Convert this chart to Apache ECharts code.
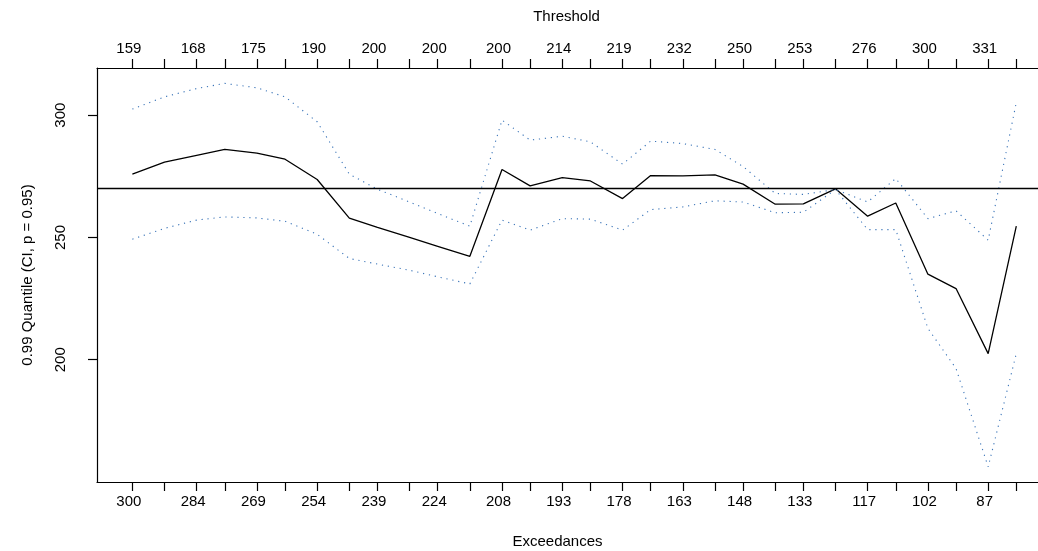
<!DOCTYPE html>
<html>
<head>
<meta charset="utf-8">
<script src="https://cdn.jsdelivr.net/npm/echarts@6/dist/echarts.min.js"></script>
<style>
html,body{margin:0;padding:0;background:#fff;}
#chart{width:1038px;height:551px;}
</style>
</head>
<body>
<div id="chart"></div>
<script>
// Number of exceedances for each fitted model (bottom axis)
const exceedances = [300,292,284,277,269,262,254,246,239,231,224,216,208,201,193,186,178,171,163,155,148,140,133,125,117,110,102,95,87,80];
// Exceedance values that carry a label (bottom) and their thresholds (top)
const labelledExceedances = [300,284,269,254,239,224,208,193,178,163,148,133,117,102,87];
const thresholdLabels = ['159','168','175','190','200','200','200','214','219','232','250','253','276','300','331'];
// 0.99 quantile estimate and confidence interval
const quantile = [275.9,280.8,283.6,286.0,284.5,282.0,273.7,257.9,254.1,250.0,246.4,242.3,277.8,271.1,274.5,273.1,265.9,275.3,275.2,275.6,271.8,263.6,263.7,269.9,258.7,264.1,235.0,229.1,202.5,254.6];
const upperCI = [302.5,307.5,310.9,313.0,311.2,307.5,297.3,275.9,269.7,264.5,259.8,254.6,298.0,289.8,291.4,289.1,280.0,289.4,288.4,286.0,279.0,268.0,267.6,269.6,264.5,274.1,257.7,260.9,248.9,305.2];
const lowerCI = [249.3,253.7,257.1,258.4,258.0,256.6,251.3,241.4,239.1,236.6,233.9,231.0,257.1,253.0,257.7,257.5,253.0,261.4,262.5,265.0,264.5,260.1,260.3,269.6,253.2,253.2,212.8,196.4,156.2,202.5];
const yTicks = [200,250,300];
const referenceLevel = 270;

const pairs = arr => exceedances.map((x, i) => [x, arr[i]]);
const FONT = 'Liberation Sans, Arial, Helvetica, sans-serif';

// visible x range (plot region continues past the right edge of the picture)
const xMin = 74.6, xMax = 308.8;
const chart = echarts.init(document.getElementById('chart'), null, {renderer: 'canvas'});
const axisBase = {
  type: 'value', min: xMin, max: xMax, inverse: true,
  splitLine: {show: false},
  axisLine: {show: true, onZero: false, lineStyle: {color: '#000', width: 1.2}},
  axisTick: {show: true, length: 9, customValues: exceedances, lineStyle: {color: '#000', width: 1.2}},
  nameLocation: 'middle'
};
chart.setOption({
  animation: false,
  backgroundColor: '#fff',
  grid: {left: 97, top: 68, right: 0, height: 414, containLabel: false, outerBoundsMode: 'none'},
  xAxis: [
    Object.assign({}, axisBase, {
      position: 'bottom', name: 'Exceedances', nameGap: 52,
      nameTextStyle: {fontFamily: FONT, fontSize: 15, color: '#000', padding: [0, 20, 0, 0]},
      axisLabel: {show: true, customValues: labelledExceedances, margin: 12, fontFamily: FONT, fontSize: 15, color: '#000', padding: [0, 7, 0, 0],
        formatter: v => String(v)}
    }),
    Object.assign({}, axisBase, {
      position: 'top', name: 'Threshold', nameGap: 44,
      nameTextStyle: {fontFamily: FONT, fontSize: 15, color: '#000', padding: [0, 2, 0, 0]},
      axisLabel: {show: true, customValues: labelledExceedances, margin: 12, fontFamily: FONT, fontSize: 15, color: '#000', padding: [0, 7, 0, 0],
        formatter: v => { const i = labelledExceedances.indexOf(Math.round(v)); return i >= 0 ? thresholdLabels[i] : ''; }}
    })
  ],
  yAxis: {
    type: 'value', min: 150, max: 319.3,
    splitLine: {show: false},
    axisLine: {show: true, lineStyle: {color: '#000', width: 1.2}},
    axisTick: {show: true, length: 9, customValues: yTicks, lineStyle: {color: '#000', width: 1.2}},
    axisLabel: {show: true, customValues: yTicks, rotate: 90, margin: 29, fontFamily: FONT, fontSize: 15, color: '#000'},
    name: '0.99 Quantile (CI, p = 0.95)', nameLocation: 'middle', nameGap: 62,
    nameTextStyle: {fontFamily: FONT, fontSize: 15, color: '#000'}
  },
  series: [
    {
      type: 'line', xAxisIndex: 0, data: pairs(quantile), symbol: 'none', silent: true,
      lineStyle: {color: '#000', width: 1.3},
      markLine: {silent: true, symbol: ['none', 'none'], label: {show: false},
        lineStyle: {color: '#000', width: 1.3, type: 'solid'}, data: [{yAxis: referenceLevel}]}
    },
    {
      type: 'line', xAxisIndex: 0, data: pairs(upperCI), symbol: 'none', silent: true,
      lineStyle: {color: '#3a74b8', width: 1.1, type: [1.2, 4.8]}
    },
    {
      type: 'line', xAxisIndex: 0, data: pairs(lowerCI), symbol: 'none', silent: true,
      lineStyle: {color: '#3a74b8', width: 1.1, type: [1.2, 4.8]}
    }
  ]
});
</script>
</body>
</html>
